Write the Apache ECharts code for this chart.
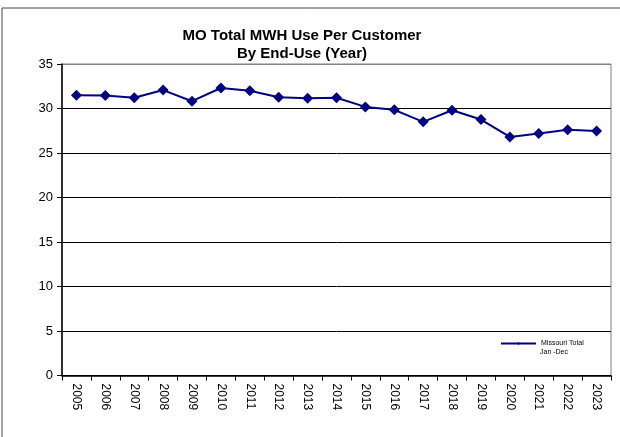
<!DOCTYPE html>
<html><head><meta charset="utf-8">
<script src="https://cdn.jsdelivr.net/npm/echarts@6/dist/echarts.min.js"></script>
<style>html,body{margin:0;padding:0;background:#fff}#c{width:620px;height:437px}</style>
</head><body><div id="c"></div>
<script>
const years = ['2005','2006','2007','2008','2009','2010','2011','2012','2013','2014','2015','2016','2017','2018','2019','2020','2021','2022','2023'];
const missouriTotal = [31.5,31.45,31.2,32.07,30.82,32.3,32.0,31.27,31.16,31.2,30.18,29.85,28.5,29.8,28.76,26.8,27.18,27.6,27.47];
const yTicks = [0,5,10,15,20,25,30,35];
const titleLines = ['MO Total MWH Use Per Customer','By End-Use (Year)'];
const seriesName = 'Missouri Total';
const seriesSub = 'Jan -Dec';

const chart = echarts.init(document.getElementById('c'), null, {renderer:'canvas'});
const font = 'Liberation Sans, Arial, sans-serif';
const splitColors = yTicks.map((v,i) => i === yTicks.length-1 ? '#808080' : '#000');
const titleStyle = {fontSize:15, fontWeight:'bold', color:'#000', fontFamily:font};
chart.setOption({
  animation:false,
  backgroundColor:'#fff',
  textStyle:{fontFamily:font},
  title:[
    {text:titleLines[0], left:302, top:28, textAlign:'center', padding:0, textStyle:titleStyle},
    {text:titleLines[1], left:302, top:46, textAlign:'center', padding:0, textStyle:titleStyle}
  ],
  grid:{left:62, right:9, top:64, bottom:61.5, show:true, borderColor:'#808080', borderWidth:1, backgroundColor:'transparent'},
  legend:{
    data:[seriesName], left:500, top:340, orient:'vertical', padding:0,
    itemWidth:35, itemHeight:4, itemGap:0,
    textStyle:{fontSize:7, color:'#000', fontFamily:font}
  },
  graphic:[
    {type:'rect', shape:{x:2,y:8,width:660,height:460}, style:{fill:'none', stroke:'#444', lineWidth:1}, silent:true},
    {type:'text', x:540, y:352, style:{text:seriesSub, fontSize:7, fill:'#000', fontFamily:font, verticalAlign:'middle'}}
  ],
  xAxis:{
    type:'category', data:years, boundaryGap:true,
    axisLine:{lineStyle:{color:'#000', width:1.5}},
    axisTick:{show:true, length:5, lineStyle:{color:'#000'}},
    axisLabel:{rotate:-90, fontSize:12, color:'#000', margin:8, fontFamily:font},
    splitLine:{show:false}
  },
  yAxis:{
    type:'value', min:0, max:35, interval:5,
    axisLine:{show:true, lineStyle:{color:'#000', width:1.5}},
    axisTick:{show:true, length:5, lineStyle:{color:'#000'}},
    axisLabel:{fontSize:13, color:'#000', margin:9, fontFamily:font},
    splitLine:{show:true, lineStyle:{color:splitColors, width:1}}
  },
  series:[{
    name:seriesName, type:'line', data:missouriTotal,
    symbol:'diamond', symbolSize:11,
    lineStyle:{color:'#000080', width:2},
    itemStyle:{color:'#000080'}
  }]
});
</script></body></html>
